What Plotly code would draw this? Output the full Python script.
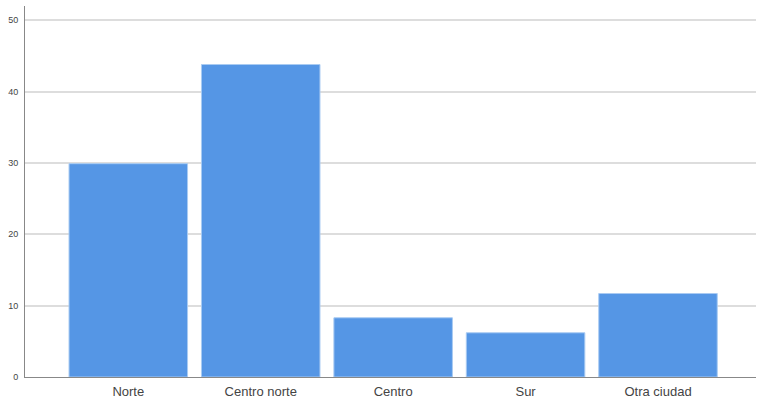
import plotly.graph_objects as go

categories = ["Norte", "Centro norte", "Centro", "Sur", "Otra ciudad"]
values = [29.9, 43.8, 8.3, 6.2, 11.7]
y_ticks = [0, 10, 20, 30, 40, 50]

fig = go.Figure(go.Bar(
    x=categories, y=values,
    marker=dict(color="#5596E5", line=dict(color="#A9CBF2", width=1)),
))
fig.update_layout(
    width=758, height=403,
    margin=dict(l=25, r=2, t=6, b=26, autoexpand=False),
    paper_bgcolor="white", plot_bgcolor="white",
    bargap=0.105, showlegend=False,
    font=dict(family="Arial, Liberation Sans, sans-serif"),
)
fig.update_xaxes(
    range=[-0.78, 4.74], showgrid=False, automargin=False,
    showline=True, linecolor="#888888", linewidth=1,
    ticks="", ticklabelstandoff=2, tickfont=dict(size=13, color="#444444"),
)
fig.update_yaxes(
    range=[0, 52], tickvals=y_ticks, ticktext=[str(v) for v in y_ticks],
    showgrid=True, gridcolor="#DDDDDD", gridwidth=1.5, automargin=False,
    showline=True, linecolor="#888888", linewidth=1,
    zeroline=False, ticks="", ticklabelstandoff=4,
    tickfont=dict(size=9, color="#444444"),
)
fig.write_html(
    "out.html",
    config={"displayModeBar": False},
    post_script="document.body.style.margin='0';document.body.style.overflow='hidden';",
)
